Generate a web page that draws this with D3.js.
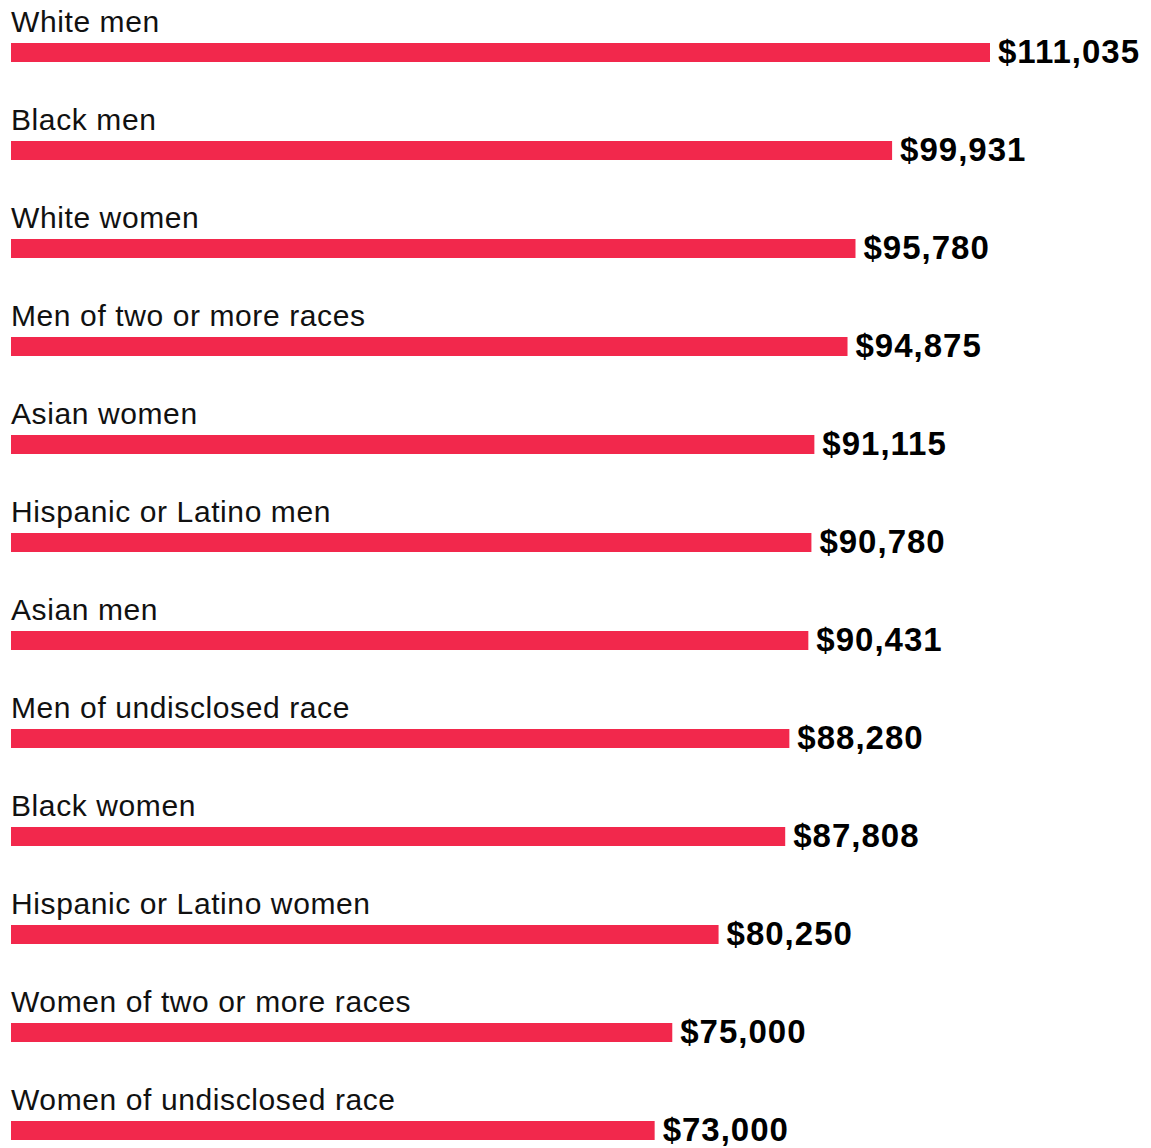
<!DOCTYPE html>
<html>
<head>
<meta charset="utf-8">
<script src="https://cdn.jsdelivr.net/npm/d3@7"></script>
<style>
  html, body { margin: 0; padding: 0; background: #fff; }
  svg { display: block; }
</style>
</head>
<body>
<svg id="chart"></svg>
<script>
// Median salary by group
const groups = [
  "White men",
  "Black men",
  "White women",
  "Men of two or more races",
  "Asian women",
  "Hispanic or Latino men",
  "Asian men",
  "Men of undisclosed race",
  "Black women",
  "Hispanic or Latino women",
  "Women of two or more races",
  "Women of undisclosed race"
];
const salaries = [111035, 99931, 95780, 94875, 91115, 90780, 90431, 88280, 87808, 80250, 75000, 73000];

const width = 1151, height = 1148;
const left = 11;
const rowStep = 98;
const barTop = 43;
const barH = 19;

const svg = d3.select("#chart").attr("width", width).attr("height", height);

const x = d3.scaleLinear().domain([0, 111035]).range([left, 990]);
const y = d3.scaleBand().domain(groups).range([0, rowStep * groups.length]).paddingInner(0);

const fmt = v => "$" + d3.format(",")(v);

const rows = svg.selectAll("g.row")
  .data(groups.map((g, i) => ({ group: g, value: salaries[i] })))
  .join("g")
  .attr("class", "row")
  .attr("transform", d => `translate(0,${y(d.group)})`);

rows.append("text")
  .attr("x", left)
  .attr("y", 31.5)
  .attr("font-family", "'Liberation Sans', Arial, Helvetica, sans-serif")
  .attr("font-size", 30)
  .attr("letter-spacing", 0.6)
  .attr("fill", "#111")
  .text(d => d.group);

rows.append("rect")
  .attr("x", x(0))
  .attr("y", barTop)
  .attr("width", d => x(d.value) - x(0))
  .attr("height", barH)
  .attr("fill", "#f2284c");

rows.append("text")
  .attr("x", d => x(d.value) + 8)
  .attr("y", 63)
  .attr("font-family", "'Liberation Sans', Arial, Helvetica, sans-serif")
  .attr("font-weight", "bold")
  .attr("font-size", 33)
  .attr("letter-spacing", 1)
  .attr("fill", "#000")
  .text(d => fmt(d.value));
</script>
</body>
</html>
